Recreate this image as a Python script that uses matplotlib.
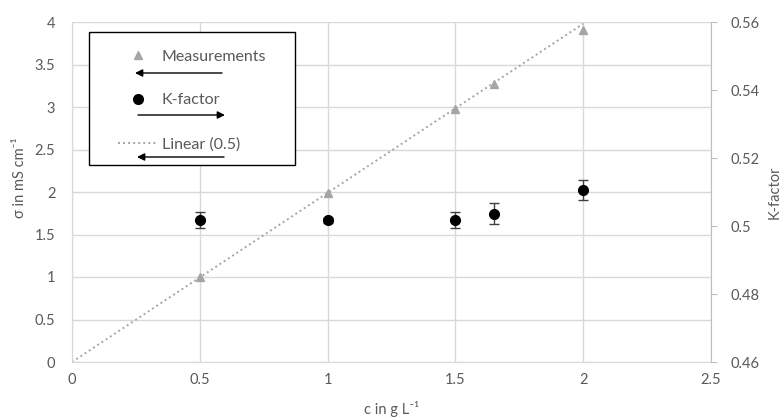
import matplotlib
matplotlib.use("Agg")
import matplotlib.pyplot as plt
from matplotlib.patches import Rectangle

plt.rcParams['font.family'] = ['Lato', 'DejaVu Sans']

# ---- data ----
conc = [0.5, 1.0, 1.5, 1.65, 2.0]
sigma = [1.00, 1.99, 2.98, 3.27, 3.91]
k_factor = [0.5018, 0.5017, 0.5017, 0.5036, 0.5106]
k_err = [0.0024, 0.0008, 0.0024, 0.0031, 0.0030]
trend_slope = 1.99
trend_x = [0.0, 2.0]

x_ticks = [0, 0.5, 1, 1.5, 2, 2.5]
x_ticklabels = ['0', '0.5', '1', '1.5', '2', '2.5']
y1_ticks = [0, 0.5, 1, 1.5, 2, 2.5, 3, 3.5, 4]
y1_ticklabels = ['0', '0.5', '1', '1.5', '2', '2.5', '3', '3.5', '4']
y2_ticks = [0.46, 0.48, 0.50, 0.52, 0.54, 0.56]
y2_ticklabels = ['0.46', '0.48', '0.5', '0.52', '0.54', '0.56']
legend_labels = ['Measurements', 'K-factor', 'Linear (0.5)']

W, H = 784, 419
TXT = '#595959'
GRID = '#d9d9d9'
GRAY = '#a5a5a5'
FS = 10.5
LFS = 11.5

fig = plt.figure(figsize=(W / 100, H / 100), dpi=100)
ax = fig.add_axes([72 / W, 1 - 362 / H, (711 - 72) / W, (362 - 22) / H])

ax.set_xlim(0, 2.5)
ax.set_ylim(0, 4)
ax.set_xticks(x_ticks)
ax.set_xticklabels(x_ticklabels)
ax.set_yticks(y1_ticks)
ax.set_yticklabels(y1_ticklabels)
ax.grid(True, color=GRID, lw=1.0)
ax.set_axisbelow(True)
for s in ['top', 'right']:
    ax.spines[s].set_visible(False)
ax.spines['left'].set_color(GRID)
ax.spines['bottom'].set_color(GRID)
ax.tick_params(axis='both', length=0, colors=TXT, labelsize=FS)
ax.tick_params(axis='y', pad=12)
ax.tick_params(axis='x', pad=8)

trend_y = [trend_slope * v for v in trend_x]
ln_trend, = ax.plot(trend_x, trend_y, color=GRAY, lw=1.4, ls=(0, (1, 1.6)), zorder=2)
ln_meas, = ax.plot(conc, sigma, ls='none', marker='^', ms=6, color=GRAY, zorder=3)

ax.set_xlabel('c in g L⁻¹', color=TXT, fontsize=FS, labelpad=10)

ax2 = ax.twinx()
ax2.set_ylim(0.46, 0.56)
ax2.set_yticks(y2_ticks)
ax2.set_yticklabels(y2_ticklabels)
for s in ['top', 'left', 'bottom']:
    ax2.spines[s].set_visible(False)
ax2.spines['right'].set_color('#bfbfbf')
ax2.tick_params(axis='y', length=4, color='#bfbfbf', colors=TXT, labelsize=FS, pad=10)
ax2.errorbar(conc, k_factor, yerr=k_err, fmt='none', ecolor='#404040', elinewidth=1.0,
             capsize=3.5, capthick=1.0, zorder=3)
ln_k, = ax2.plot(conc, k_factor, ls='none', marker='o', ms=7, color='black', zorder=4)

# axis titles placed in figure pixels
fig.text(20 / W, 1 - 178 / H, 'σ in mS cm⁻¹', rotation=90, ha='center', va='center',
         color=TXT, fontsize=FS)
fig.text(775 / W, 1 - 192 / H, 'K-factor', rotation=90, ha='center', va='center',
         color=TXT, fontsize=FS)

# ---- overlay for legend box and arrows (pixel coordinates) ----
ov = fig.add_axes([0, 0, 1, 1], zorder=10)
ov.set_xlim(0, W)
ov.set_ylim(H, 0)
ov.axis('off')
ov.patch.set_alpha(0)
ov.add_patch(Rectangle((89, 32), 206, 133, facecolor='white', edgecolor='black', lw=1.0))
leg = ov.legend([ln_meas, ln_k, ln_trend], legend_labels, loc='upper left',
                bbox_to_anchor=(118, 49.5), bbox_transform=ov.transData,
                frameon=False, borderpad=0, handlelength=2.5, handletextpad=0.25,
                labelspacing=1.85, fontsize=LFS, borderaxespad=0)
for t in leg.get_texts():
    t.set_color(TXT)

arrow_kw = dict(arrowstyle='-|>', color='black', lw=1.0, mutation_scale=11,
                shrinkA=0, shrinkB=0)
ov.annotate('', xy=(135, 73), xytext=(222, 73), arrowprops=arrow_kw)
ov.annotate('', xy=(225, 115), xytext=(138, 115), arrowprops=arrow_kw)
ov.annotate('', xy=(137, 157), xytext=(224, 157), arrowprops=arrow_kw)

fig.savefig('out.png', dpi=100)
